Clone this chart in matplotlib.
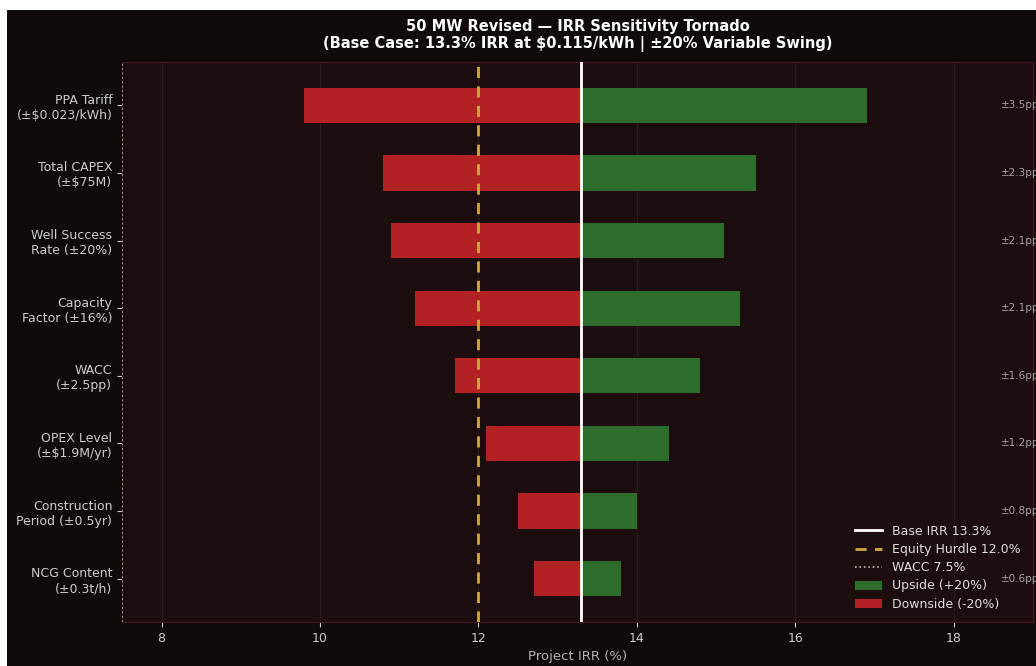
import matplotlib
matplotlib.use("Agg")
import matplotlib.pyplot as plt
from matplotlib.patches import Patch, Rectangle
from matplotlib.lines import Line2D

# Sensitivity inputs (top to bottom)
drivers = [
    "PPA Tariff\n(±$0.023/kWh)",
    "Total CAPEX\n(±$75M)",
    "Well Success\nRate (±20%)",
    "Capacity\nFactor (±16%)",
    "WACC\n(±2.5pp)",
    "OPEX Level\n(±$1.9M/yr)",
    "Construction\nPeriod (±0.5yr)",
    "NCG Content\n(±0.3t/h)",
]
irr_low = [9.8, 10.8, 10.9, 11.2, 11.7, 12.1, 12.5, 12.7]
irr_high = [16.9, 15.5, 15.1, 15.3, 14.8, 14.4, 14.0, 13.8]
swing_pp = [3.5, 2.3, 2.1, 2.1, 1.6, 1.2, 0.8, 0.6]

base_irr = 13.3
equity_hurdle = 12.0
wacc = 7.5

fig_bg = "#110a0a"
ax_bg = "#1c0e0f"
red = "#b22222"
green = "#2d6e2d"
gold = "#d4a843"

fig = plt.figure(figsize=(10.36, 6.66), dpi=100, facecolor=fig_bg)
# thin white margin along the top and left edge
fig.patches.append(Rectangle((0, 1 - 10 / 666), 1, 10 / 666, transform=fig.transFigure,
                             facecolor="white", edgecolor="none", zorder=-1))
fig.patches.append(Rectangle((0, 0), 7 / 1036, 1, transform=fig.transFigure,
                             facecolor="white", edgecolor="none", zorder=-1))

ax = fig.add_axes([122 / 1036, 44 / 666, 911 / 1036, 560 / 666])
ax.set_facecolor(ax_bg)

ypos = list(range(len(drivers)))
h = 0.52
for y, lo, hi in zip(ypos, irr_low, irr_high):
    ax.barh(y, base_irr - lo, left=lo, height=h, color=red, zorder=2)
    ax.barh(y, hi - base_irr, left=base_irr, height=h, color=green, zorder=2)

for y, s in zip(ypos, swing_pp):
    ax.text(18.6, y, f"±{s:.1f}pp", color="#a8a0a0", fontsize=7.5,
            va="center", ha="left", clip_on=False)

ax.axvline(base_irr, color="white", lw=2, zorder=3)
ax.axvline(equity_hurdle, color=gold, lw=2, ls=(0, (4, 3)), zorder=3)
ax.axvline(wacc, color="#c8b8b8", lw=1.2, ls=":", zorder=3)

ax.set_xlim(7.5, 19.0)
ax.set_ylim(7.64, -0.64)
ax.set_yticks(ypos)
ax.set_yticklabels(drivers, fontsize=9, color="#e0dcdc")
ax.set_xticks([8, 10, 12, 14, 16, 18])
ax.tick_params(axis="x", colors="#cccccc", labelsize=9)
ax.tick_params(axis="y", colors="#cccccc", length=3.5)
ax.grid(axis="x", color="#2e1a1c", lw=0.8, zorder=0)
ax.set_axisbelow(True)
for sp in ax.spines.values():
    sp.set_color("#4a1a20")
    sp.set_linewidth(0.8)

ax.set_xlabel("Project IRR (%)", fontsize=9.5, color="#b8b0b0", labelpad=4)
ax.set_title("50 MW Revised — IRR Sensitivity Tornado\n"
             "(Base Case: 13.3% IRR at $0.115/kWh | ±20% Variable Swing)",
             fontsize=10.5, fontweight="bold", color="white", pad=10)

handles = [
    Line2D([], [], color="white", lw=2, label=f"Base IRR {base_irr:.1f}%"),
    Line2D([], [], color=gold, lw=2, ls=(0, (4, 3)), label=f"Equity Hurdle {equity_hurdle:.1f}%"),
    Line2D([], [], color="#c8b8b8", lw=1.2, ls=":", label=f"WACC {wacc:.1f}%"),
    Patch(facecolor=green, label="Upside (+20%)"),
    Patch(facecolor=red, label="Downside (-20%)"),
]
leg = ax.legend(handles=handles, loc="lower right", fontsize=9, frameon=False,
                labelcolor="#dddddd", bbox_to_anchor=(0.999, 0.0), handlelength=2.2,
                labelspacing=0.42)

fig.savefig("out.png", dpi=100, facecolor=fig_bg)
